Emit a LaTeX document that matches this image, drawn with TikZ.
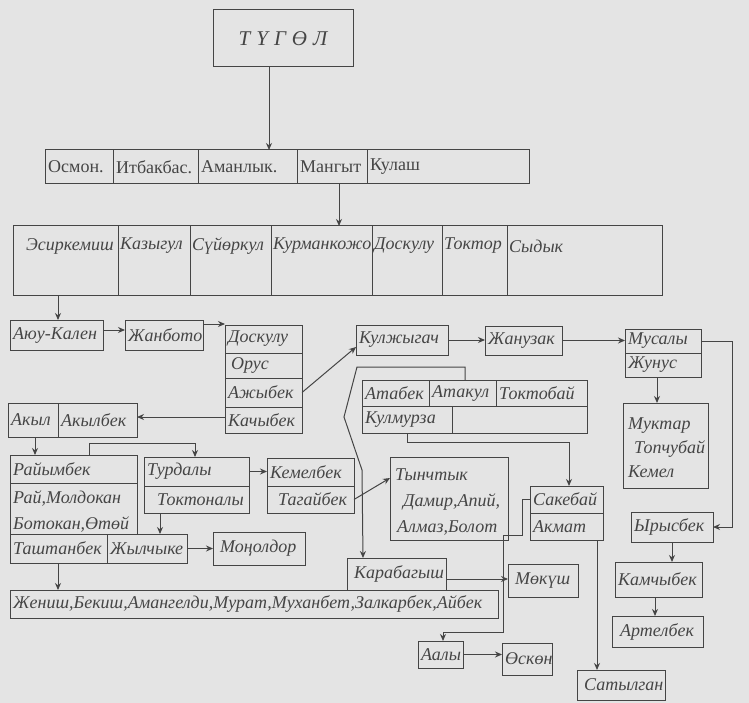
\documentclass[tikz,border=0pt]{standalone}
\usepackage{fontspec}
\setmainfont{Liberation Serif}
\usetikzlibrary{arrows.meta}
\definecolor{bg}{HTML}{E4E4E4}
\definecolor{ink}{HTML}{454545}
\tikzset{
 cell/.style={draw=ink, line width=1pt, inner sep=0pt, outer sep=0pt},
 lbl/.style={inner sep=0pt, text=ink, font=\fontsize{18}{26}\selectfont\itshape, align=left},
 lblup/.style={inner sep=0pt, text=ink, font=\fontsize{18}{20}\selectfont},
 arr/.style={draw=ink, line width=1pt, -{Stealth[length=7pt,width=6pt]}},
}
\newcommand\cb[7][lbl]{%
 \pgfmathsetmacro\cbw{#5-#3}\pgfmathsetmacro\cbh{#6-#4}%
 \node[cell, minimum width=\cbw pt, minimum height=\cbh pt, anchor=north west] (#2) at (#3,#4) {};%
 \node[#1, anchor=west] (#2-t) at ([xshift=3pt]#2.west) {#7};}
\newcommand\cbtop[6]{%
 \pgfmathsetmacro\cbw{#4-#2}\pgfmathsetmacro\cbh{#5-#3}%
 \node[cell, minimum width=\cbw pt, minimum height=\cbh pt, anchor=north west] (#1) at (#2,#3) {};%
 \node[lbl, anchor=west] (#1-t) at ([xshift=2pt,yshift=-20pt]#1.north west) {#6};}
\begin{document}
\begin{tikzpicture}[x=1pt,y=-1pt]
\fill[bg] (0,0) rectangle (749,703);
\useasboundingbox (0,0) rectangle (749,703);
% top
\node[cell, minimum width=140pt, minimum height=57pt, anchor=north west] (tugol) at (213,10) {};
\node[lbl, font=\fontsize{21}{24}\selectfont\itshape] (tugol-t) at (tugol.center) {Т\hspace{6pt}Ү\hspace{6pt}Г\hspace{6pt}Ө\hspace{6pt}Л};
% row 1
\cb[lblup]{r1a}{45}{150}{113}{184}{Осмон.}
\cb[lblup]{r1b}{113}{150}{198}{184}{Итбакбас.}
\cb[lblup]{r1c}{198}{150}{297}{184}{Аманлык.}
\cb[lblup]{r1d}{297}{150}{367}{184}{Мангыт}
\cb[lblup]{r1e}{367}{150}{529}{184}{Кулаш}
% row 2
\cbtop{r2a}{13}{226}{118}{295}{\hspace{11pt}Эсиркемиш}
\cbtop{r2b}{118}{226}{190}{295}{Казыгул}
\cbtop{r2c}{190}{226}{271}{295}{Сүйөркул}
\cbtop{r2d}{271}{226}{372}{295}{Курманкожо}
\cbtop{r2e}{372}{226}{442}{295}{Доскулу}
\cbtop{r2f}{442}{226}{507}{295}{Токтор}
\cbtop{r2g}{507}{226}{662}{295}{Сыдык}
% left chain
\cb{aju}{10}{320}{103}{350}{Аюу-Кален}
\cb{janb}{125}{320}{203}{350}{Жанбото}
\cb{dosk}{225}{325}{302}{353}{Доскулу}
\cb{orus}{225}{353}{302}{378}{\hspace{3pt}Орус}
\cb{ajyb}{225}{378}{302}{407}{Ажыбек}
\cb{kach}{225}{407}{302}{433}{Качыбек}
\cb{kulj}{356}{325}{448}{355}{Кулжыгач}
\cb{janu}{485}{326}{562}{355}{Жанузак}
\cb{mus}{625}{329}{701}{353}{Мусалы}
\cb{jun}{625}{353}{701}{377}{Жунус}
\node[cell, minimum width=85pt, minimum height=85pt, anchor=north west] (muk) at (623,403) {};
\node[lbl, anchor=north west] (muk-t) at ([xshift=5pt,yshift=-15pt]muk.north west) {Муктар\\[-2pt]\hspace*{6pt}Топчубай\\[-2pt]Кемел};
\cb{yry}{631}{512}{713}{542}{Ырысбек}
\cb{kam}{615}{562}{702}{597}{Камчыбек}
\cb{art}{612}{616}{703}{647}{\hspace{5pt}Артелбек}
\cb{sat}{577}{670}{665}{700}{\hspace{4pt}Сатылган}
% atabek block
\cb{atab}{362}{380}{429}{406}{Атабек}
\cb{atak}{429}{380}{496}{406}{Атакул}
\cb{tokb}{496}{380}{587}{406}{Токтобай}
\cb{kulm}{362}{406}{452}{433}{Кулмурза}
\node[cell, minimum width=135pt, minimum height=27pt, anchor=north west] (emp) at (452,406) {};
\node[cell, minimum width=118pt, minimum height=83pt, anchor=north west] (tyn) at (390,457) {};
\node[lbl, anchor=north west] (tyn-t) at ([xshift=5pt,yshift=-12pt]tyn.north west) {Тынчтык\\\hspace*{8pt}Дамир,Апий,\\\hspace*{2pt}Алмаз,Болот};
\cb{sak}{530}{486}{603}{513}{Сакебай}
\cb{akm}{530}{513}{603}{540}{Акмат}
% middle left
\cb{akyl}{8}{403}{58}{437}{Акыл}
\cb{akb}{58}{403}{137}{437}{Акылбек}
\cb{raim}{10}{455}{137}{483}{Райымбек}
\node[cell, minimum width=127pt, minimum height=51pt, anchor=north west] (rai) at (10,483) {};
\node[lbl, anchor=west] (rai-t) at ([xshift=3pt,yshift=-3pt]rai.west) {Рай,Молдокан\\Ботокан,Өтөй};
\cb{turd}{144}{457}{249}{486}{Турдалы}
\cb{tokt}{144}{486}{249}{513}{\hspace{10pt}Токтоналы}
\cb{keml}{267}{458}{354}{486}{Кемелбек}
\cb{tagb}{267}{486}{354}{513}{\hspace{8pt}Тагайбек}
\cb{tasht}{10}{534}{107}{563}{Таштанбек}
\cb{jylc}{107}{534}{187}{563}{Жылчыке}
\cb{mon}{213}{532}{305}{565}{\hspace{4pt}Моңолдор}
\cb{jen}{10}{590}{498}{618}{Жениш,Бекиш,Амангелди,Мурат,Муханбет,Залкарбек,Айбек}
\cb{kara}{347}{558}{446}{590}{\hspace{4pt}Карабагыш}
\cb{mok}{508}{564}{578}{597}{\hspace{4pt}Мөкүш}
\cb{aaly}{418}{641}{463}{668}{Аалы}
\cb{osk}{502}{643}{552}{675}{Өскөн}
% connectors
\draw[arr] ([xshift=56pt]tugol.south west) -- ([xshift=56pt]tugol.south west |- r1a.north);
\draw[arr] ([xshift=42pt]r1d.south west) -- ([xshift=42pt]r1d.south west |- r2a.north);
\draw[arr] ([xshift=45pt]r2a.south west) -- ([xshift=48pt]aju.north west);
\draw[arr] ([yshift=-10pt]aju.north east) -- ([yshift=-10pt]aju.north east -| janb.west);
\draw[arr] ([yshift=-4pt]janb.north east) -- ([yshift=-4pt]janb.north east -| dosk.west);
\draw[arr] (ajyb.east) -- ([yshift=8pt]kulj.south west);
\draw[arr] (kulj.east) -- (kulj.east -| janu.west);
\draw[arr] (janu.east) -- (janu.east -| mus.west);
\draw[arr] (mus.east) -- ++(31,0) |- (yry.east);
\draw[arr] ([xshift=32pt]jun.south west) -- ([xshift=32pt]jun.south west |- muk.north);
\draw[arr] ([xshift=41pt]yry.south west) -- ([xshift=41pt]yry.south west |- kam.north);
\draw[arr] ([xshift=40pt]kam.south west) -- ([xshift=40pt]kam.south west |- art.north);
\draw[arr] ([xshift=67pt]akm.south west) -- ([xshift=67pt]akm.south west |- sat.north);
\draw[arr] ([yshift=3pt]kach.west) -- ([yshift=3pt]kach.west -| akb.east);
\draw[arr] ([xshift=27pt]akyl.south west) -- ([xshift=27pt]akyl.south west |- raim.north);
\draw[arr] ([xshift=79pt]raim.north west) -- ++(0,-12) -| ([xshift=51pt]turd.north west);
\draw[arr] (turd.east) -- (turd.east -| keml.west);
\draw[arr] (tagb.east) -- ([yshift=-21pt]tyn.north west);
\draw[arr] ([xshift=16pt]tokt.south west) -- ([xshift=16pt]tokt.south west |- jylc.north);
\draw[arr] (jylc.east) -- (jylc.east -| mon.west);
\draw[arr] ([xshift=48pt]tasht.south west) -- ([xshift=48pt]tasht.south west |- jen.north);
\draw[arr] ([yshift=-5pt]kara.east) -- ([yshift=-5pt]kara.east -| mok.west);
\draw[arr] (aaly.east) -- (aaly.east -| osk.west);
\draw[arr] ([xshift=45pt]kulm.south west) -- ++(0,9) -| ([xshift=39pt]sak.north west);
\draw[arr] ([xshift=36pt]atak.north west) -- ++(0,-13) -- ++(-108,0) -- ++(-13,50) -- ++(18,53) -- ([xshift=16pt]kara.north west);
\draw[arr] (sak.west) -- ++(-8,0) -- ++(0,36) -- ++(-19,0) -- ++(0,97) -| ([xshift=25pt]aaly.north west);
\end{tikzpicture}
\end{document}
